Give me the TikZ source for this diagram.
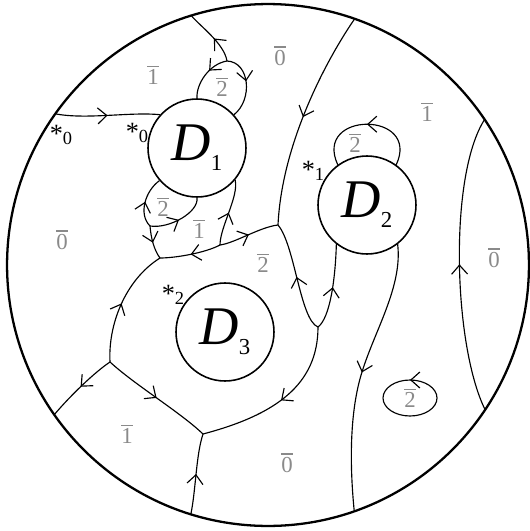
\documentclass[tikz,border=0pt]{standalone}
\usepackage{fontspec}
\setmainfont{Liberation Serif}
\usepackage{tikz}
\usetikzlibrary{arrows.meta,calc,decorations.markings}
\definecolor{labgrey}{HTML}{8A8A8A}
\newcommand{\ov}[1]{\vbox{\hrule height 0.8pt\kern1.4pt\hbox{#1}}}
\newcommand{\dlab}[1]{{\fontsize{31}{31}\selectfont\itshape D}\raisebox{-2mm}{\fontsize{13}{13}\selectfont #1}}
\newcommand{\basestar}[1]{{\fontsize{15}{15}\selectfont *}\raisebox{-0.4mm}{\fontsize{10.5}{10.5}\selectfont #1}}

\begin{document}
\begin{tikzpicture}[x=0.02cm,y=-0.02cm,line width=0.65pt,
  disc/.style={draw,circle,line width=0.9pt,minimum size=1.96cm,inner sep=0pt},
  lab/.style={text=labgrey,font=\fontsize{13}{13}\selectfont,inner sep=0pt},
  basept/.style={inner sep=0pt},
  flow/.style={postaction={decorate},decoration={markings,mark=at position #1 with {\arrow{Straight Barb[length=1.8mm,width=3.2mm]}}}},
  flow/.default=0.5]
\useasboundingbox (0,0) rectangle (530,531);
\coordinate (O) at (268,265);
\draw[line width=1.3pt] (O) circle[radius=5.22cm];
\node[disc] (D1) at (197,148) {\dlab{1}};
\node[disc] (D2) at (367,205) {\dlab{2}};
\node[disc] (D3) at (225,332) {\dlab{3}};
\foreach \n/\a in {A/-144.6,B/-107.1,C/-70.6,D/-33.9,E/33.7,F/70.7,G/107.2,H/145}
  \coordinate (b\n) at ($(O)+(\a:261)$);
\coordinate (J1) at (227,61);
\coordinate (J2) at (150,226);
\coordinate (J3) at (160,258);
\coordinate (J4) at (220,245);
\coordinate (J5) at (278,225);
\coordinate (J6) at (318,327);
\coordinate (J7) at (203,434);
\coordinate (J8) at (110,362);
\coordinate (E) at (410,398);
\draw[flow] (bA) .. controls +(31,6) and +(-30,-3) .. (D1.138);
\draw[flow=0.45] (J1) .. controls +(-3,-18) and +(8,10) .. (bB);
\draw[flow=0.4] (J1) .. controls +(-18,3) and +(-1,-14) .. (D1.90);
\draw[flow=0.45] (J1) .. controls +(23,1) and +(19,-15) .. (D1.42);
\draw[flow] (J2) .. controls +(-12,-12) and +(-14,10) .. (D1.221);
\draw[flow] (J2) .. controls +(20,3) and +(2,14) .. (D1.270);
\draw[flow] (J2) .. controls +(1,12) and +(-6,-8) .. (J3);
\draw[flow] (J4) .. controls +(-15,8) and +(15,0) .. (J3);
\draw[flow] (J4) .. controls +(0,-18) and +(4,16) .. (D1.320);
\draw[flow] (J4) .. controls +(15,-2) and +(-18,2) .. (J5);
\draw[flow] (bC) .. controls +(-25,36) and +(4,-85) .. (J5);
\draw[flow] (J6) .. controls +(-18,-7) and +(17,20) .. (J5);
\draw[flow] (J6) .. controls +(12,-9) and +(-1,35) .. (D2.232);
\draw[flow] (J6) .. controls +(0,58) and +(72,-19) .. (J7);
\draw[flow] (J8) .. controls +(25,23) and +(-23,-22) .. (J7);
\draw[flow] (bG) .. controls +(5,-24) and +(-7,21) .. (J7);
\draw[flow] (J8) .. controls +(-2,-37) and +(-35,22) .. (J3);
\draw[flow] (J8) .. controls +(-15,10) and +(17,-20) .. (bH);
\draw[flow] (D2.54) .. controls +(25,-54) and +(-25,-54) .. (D2.126);
\draw[flow=0.49] (D2.308) .. controls +(5,42) and +(13,-42) .. (362,372) .. controls +(-12,38) and +(-5,-50) .. (bF);
\draw[flow] (bE) .. controls +(-32,-65) and +(-36,56) .. (bD);
\draw[flow=0.25] ($(E)+(27,0)$) arc[start angle=0,end angle=360,x radius=0.54cm,y radius=0.36cm];
\node[lab] (l1) at (153,75) {\ov{1}};
\node[lab] (l2) at (222,87) {\ov{2}};
\node[lab] (l3) at (163,207) {\ov{2}};
\node[lab] (l4) at (199,229) {\ov{1}};
\node[lab] (l5) at (62,240) {\ov{0}};
\node[lab] (l6) at (280,56) {\ov{0}};
\node[lab] (l7) at (427,112) {\ov{1}};
\node[lab] (l8) at (355,143) {\ov{2}};
\node[lab] (l9) at (494,258) {\ov{0}};
\node[lab] (l10) at (263,263) {\ov{2}};
\node[lab] (l11) at (127,434) {\ov{1}};
\node[lab] (l12) at (287,463) {\ov{0}};
\node[lab] (l13) at (E) {\ov{2}};
\node[basept] (s0) at (61,135) {\basestar{0}};
\node[basept] (s0b) at (137,133) {\basestar{0}};
\node[basept] (s1) at (313,171) {\basestar{1}};
\node[basept] (s2) at (173,295) {\basestar{2}};
\end{tikzpicture}
\end{document}
